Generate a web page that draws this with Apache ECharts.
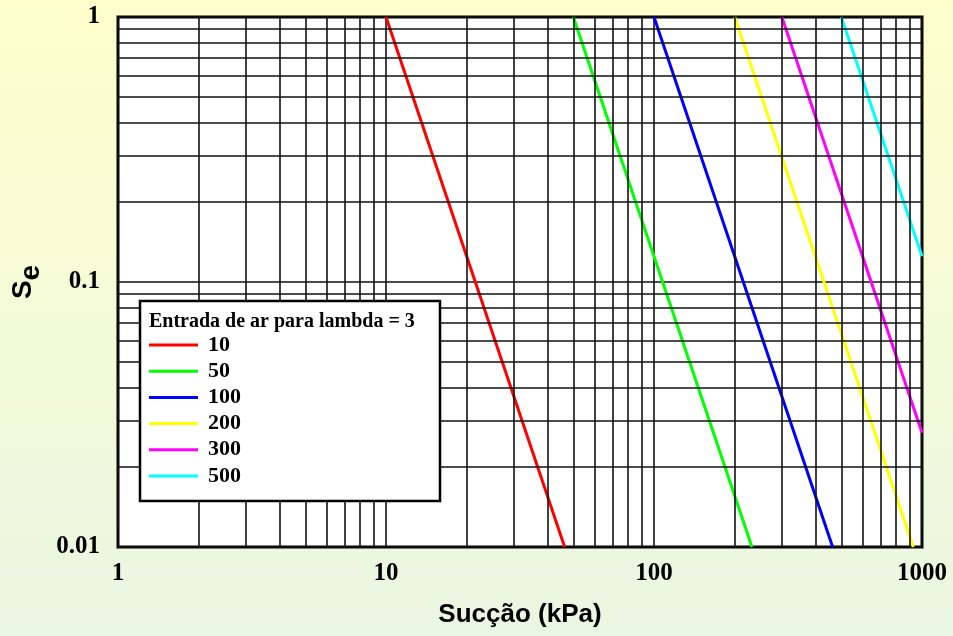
<!DOCTYPE html>
<html>
<head>
<meta charset="utf-8">
<script src="https://cdn.jsdelivr.net/npm/echarts@6/dist/echarts.min.js"></script>
<style>
  html, body { margin: 0; padding: 0; }
  #chart { width: 953px; height: 636px; }
</style>
</head>
<body>
<div id="chart"></div>
<script>
// Air-entry values (kPa) and their line colours
const entryValues = ['10', '50', '100', '200', '300', '500'];
const lineColors = ['#ff0000', '#00ff00', '#0000ff', '#ffff00', '#ff00ff', '#00ffff'];

// End points of each curve: suction (kPa) and effective saturation Se
const suction10 = [10, 46.4];
const se10 = [1, 0.01];
const suction50 = [50, 232];
const se50 = [1, 0.01];
const suction100 = [100, 464];
const se100 = [1, 0.01];
const suction200 = [200, 928];
const se200 = [1, 0.01];
const suction300 = [300, 1000];
const se300 = [1, 0.027];
const suction500 = [500, 1000];
const se500 = [1, 0.125];

// Intermediate grid values inside each decade
const xMinorGrid = [2, 3, 4, 5, 6, 7, 8, 9, 20, 30, 40, 50, 60, 70, 80, 90, 200, 300, 400, 500, 600, 700, 800, 900];
const yMinorGrid = [0.02, 0.03, 0.04, 0.05, 0.06, 0.07, 0.08, 0.09, 0.2, 0.3, 0.4, 0.5, 0.6, 0.7, 0.8, 0.9];

const curves = [
  [suction10, se10], [suction50, se50], [suction100, se100],
  [suction200, se200], [suction300, se300], [suction500, se500]
];

const serif = '"Liberation Serif", "Times New Roman", serif';
const sans = '"Liberation Sans", Arial, sans-serif';

const series = curves.map(function (c, i) {
  return {
    name: entryValues[i],
    type: 'line',
    data: c[0].map(function (x, k) { return [x, c[1][k]]; }),
    showSymbol: false,
    symbol: 'none',
    lineStyle: { color: lineColors[i], width: 3 },
    itemStyle: { color: lineColors[i] },
    z: 3,
    animation: false
  };
});

// Minor grid lines drawn through the axes' own scales
const gridLineStyle = { color: '#111', width: 1.6, type: 'solid' };
series.push({
  type: 'line',
  data: [],
  z: 1,
  silent: true,
  animation: false,
  markLine: {
    silent: true,
    symbol: ['none', 'none'],
    label: { show: false },
    lineStyle: gridLineStyle,
    animation: false,
    data: xMinorGrid.map(function (v) { return { xAxis: v }; })
      .concat(yMinorGrid.map(function (v) { return { yAxis: v }; }))
  }
});

const chart = echarts.init(document.getElementById('chart'), null, { renderer: 'canvas' });
chart.setOption({
  backgroundColor: {
    type: 'linear', x: 0, y: 0, x2: 0, y2: 1,
    colorStops: [
      { offset: 0, color: '#ffffcc' },
      { offset: 1, color: '#e9f6e2' }
    ]
  },
  animation: false,
  grid: {
    left: 118, right: 31, top: 17, bottom: 89,
    show: true,
    backgroundColor: '#ffffff',
    borderColor: '#000',
    borderWidth: 3
  },
  xAxis: {
    type: 'log',
    logBase: 10,
    min: 1,
    max: 1000,
    name: 'Sucção (kPa)',
    nameLocation: 'middle',
    nameGap: 55,
    nameTextStyle: { fontFamily: sans, fontWeight: 'bold', fontSize: 26, color: '#000' },
    axisLine: { show: false },
    axisTick: { show: false },
    axisLabel: {
      fontFamily: serif, fontWeight: 'bold', fontSize: 25, color: '#000', margin: 14,
      formatter: function (v) { return String(v); }
    },
    splitLine: { show: true, lineStyle: gridLineStyle },
    minorTick: { show: false },
    minorSplitLine: { show: false }
  },
  yAxis: {
    type: 'log',
    logBase: 10,
    min: 0.01,
    max: 1,
    name: '{a|S}{b|e}',
    nameLocation: 'middle',
    nameGap: 69,
    nameRotate: 90,
    nameTextStyle: {
      color: '#000',
      rich: {
        a: { fontFamily: sans, fontWeight: 'bold', fontSize: 28, lineHeight: 28, verticalAlign: 'top', color: '#000' },
        b: { fontFamily: sans, fontWeight: 'bold', fontSize: 28, lineHeight: 28, padding: [8, 0, 0, 0], verticalAlign: 'top', color: '#000' }
      }
    },
    axisLine: { show: false },
    axisTick: { show: false },
    axisLabel: {
      fontFamily: serif, fontWeight: 'bold', fontSize: 25, color: '#000', margin: 18,
      formatter: function (v) { return String(v); }
    },
    splitLine: { show: true, lineStyle: gridLineStyle }
  },
  legend: {
    orient: 'vertical',
    left: 149,
    top: 334,
    padding: 0,
    data: entryValues,
    icon: 'rect',
    itemWidth: 49,
    itemHeight: 3,
    itemGap: 4.2,
    z: 200,
    selectedMode: false,
    textStyle: { fontFamily: serif, fontWeight: 'bold', fontSize: 22, lineHeight: 22, color: '#000', padding: [0, 0, 0, 5] }
  },
  graphic: [
    {
      type: 'rect',
      z: 100,
      shape: { x: 140, y: 301, width: 300, height: 200 },
      style: { fill: '#ffffff', stroke: '#000', lineWidth: 2.5 }
    },
    {
      type: 'text',
      z: 101,
      x: 149,
      y: 322,
      style: {
        text: 'Entrada de ar para lambda = 3',
        font: 'bold 20px ' + serif,
        fill: '#000',
        verticalAlign: 'middle'
      }
    }
  ],
  series: series
});
</script>
</body>
</html>
